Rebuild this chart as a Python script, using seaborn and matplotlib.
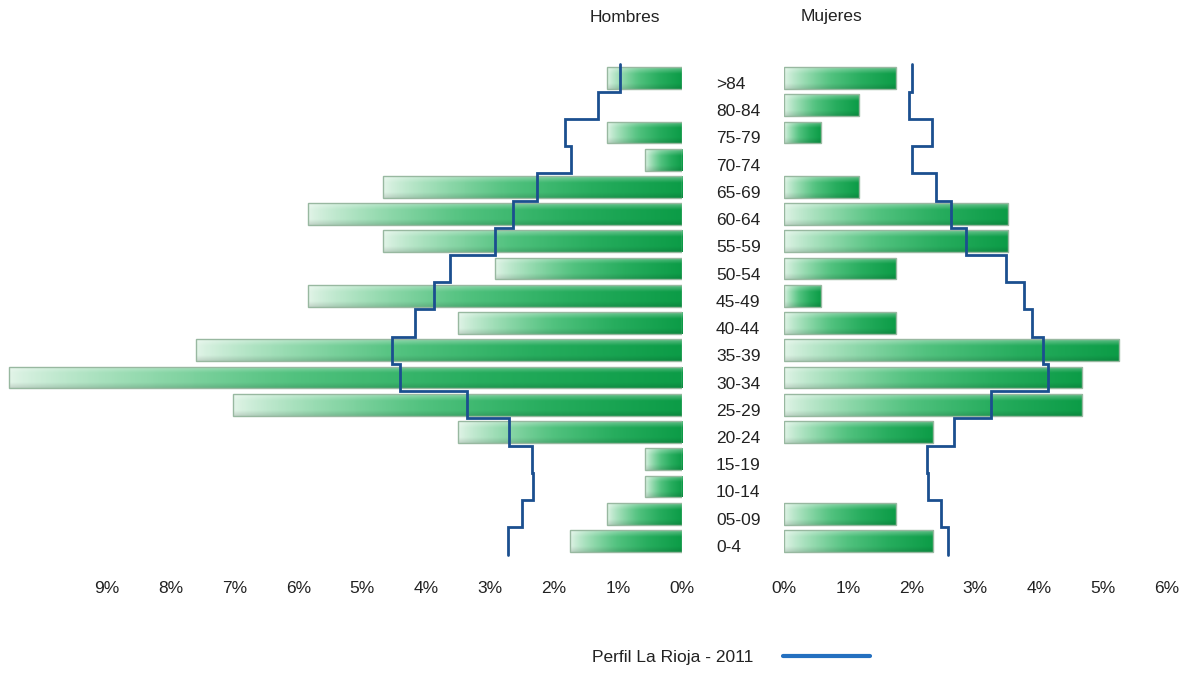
import numpy as np
import seaborn as sns
import matplotlib.pyplot as plt
from matplotlib.colors import LinearSegmentedColormap
from matplotlib.lines import Line2D
from matplotlib.transforms import ScaledTranslation

# age groups, top row first
grupos = ['>84', '80-84', '75-79', '70-74', '65-69', '60-64', '55-59', '50-54',
          '45-49', '40-44', '35-39', '30-34', '25-29', '20-24', '15-19', '10-14',
          '05-09', '0-4']

# % of population (bars)
hombres = [1.17, 0.00, 1.17, 0.58, 4.68, 5.85, 4.68, 2.92, 5.85, 3.51,
           7.60, 10.53, 7.02, 3.51, 0.58, 0.58, 1.17, 1.75]
mujeres = [1.75, 1.17, 0.58, 0.00, 1.17, 3.51, 3.51, 1.75, 0.58, 1.75,
           5.26, 4.68, 4.68, 2.34, 0.00, 0.00, 1.75, 2.34]

# La Rioja 2011 profile (step line)
perfil_h = [0.97, 1.31, 1.83, 1.74, 2.27, 2.64, 2.93, 3.63, 3.88, 4.18,
            4.54, 4.41, 3.37, 2.71, 2.35, 2.33, 2.50, 2.73]
perfil_m = [2.00, 1.96, 2.32, 2.00, 2.38, 2.62, 2.86, 3.48, 3.76, 3.89,
            4.06, 4.14, 3.24, 2.67, 2.24, 2.26, 2.46, 2.57]

ticks_h = list(range(0, 10))
ticks_m = list(range(0, 7))
leyenda = 'Perfil La Rioja - 2011'

sns.set_style('white')
plt.rcParams['font.family'] = ['Liberation Sans', 'DejaVu Sans']

fig = plt.figure(figsize=(11.89, 6.73), dpi=100)
ax_h = fig.add_axes([0.0, 0.1679, 0.5736, 0.7504])
ax_m = fig.add_axes([0.6594, 0.1679, 0.3406, 0.7504])

# green gradient used to fill each bar (light on the left, dark on the right)
cmap = LinearSegmentedColormap.from_list(
    'verde', ['#e2f4e8', '#9adcb3', '#52c27f', '#27ad5e', '#0c9c47'])
tx = np.linspace(0, 1, 256) ** 0.8
ty = np.linspace(0, 1, 24)
grad = cmap(tx)[None, :, :3].repeat(len(ty), axis=0)
light = np.clip(0.35 - ty * 1.2, 0, None)[:, None, None]
dark = np.clip((ty - 0.75) * 0.5, 0, None)[:, None, None]
grad = grad * (1 - light) + light
grad = grad * (1 - dark)

linea = '#1b4f8f'


def draw_side(ax, values, perfil, inverted):
    sns.barplot(x=values, y=grupos, orient='h', order=grupos, ax=ax,
                width=0.8, color='#3fb874', edgecolor='#98b8a0', linewidth=1)
    for p in ax.patches:
        w = p.get_width()
        if w <= 0:
            p.set_linewidth(0)
            continue
        x0, y0, h = p.get_x(), p.get_y(), p.get_height()
        lo, hi = min(x0, x0 + w), max(x0, x0 + w)
        ext = (hi, lo, y0 + h, y0) if inverted else (lo, hi, y0 + h, y0)
        im = ax.imshow(grad, extent=ext, aspect='auto', origin='upper',
                       interpolation='bilinear', zorder=1.5)
        im.set_clip_path(p)
        p.set_facecolor('none')
        p.set_zorder(2)

    pos = np.arange(len(grupos))
    ys = np.column_stack([pos - 0.5, pos + 0.5]).ravel()
    xs = np.repeat(perfil, 2)
    ax.plot(xs, ys, color=linea, lw=2.0, zorder=3, solid_joinstyle='miter')

    ax.set_ylim(17.70, -0.844)
    for s in ax.spines.values():
        s.set_visible(False)
    ax.set_xlabel('')
    ax.set_ylabel('')


draw_side(ax_h, hombres, perfil_h, True)
draw_side(ax_m, mujeres, perfil_m, False)

ax_h.set_xlim(10.67, 0)
ax_h.set_xticks(ticks_h)
ax_h.set_xticklabels([f'{t}%' for t in ticks_h])
ax_h.yaxis.tick_right()
ax_h.tick_params(axis='y', length=0, pad=24.5, labelsize=12.5, labelcolor='#222222')
ax_h.tick_params(axis='x', length=0, pad=15, labelsize=12.5, labelcolor='#222222')
# age labels sit a little below the bar centres
shift = ScaledTranslation(0, -0.05, fig.dpi_scale_trans)
for lab in ax_h.get_yticklabels():
    lab.set_transform(lab.get_transform() + shift)

ax_m.set_xlim(0, 6.35)
ax_m.set_xticks(ticks_m)
ax_m.set_xticklabels([f'{t}%' for t in ticks_m])
ax_m.set_yticks([])
ax_m.tick_params(axis='x', length=0, pad=15, labelsize=12.5, labelcolor='#222222')

fig.text(625 / 1189, 1 - 18 / 673, 'Hombres', ha='center', va='center',
         fontsize=12.5, color='#222222')
fig.text(831 / 1189, 1 - 17 / 673, 'Mujeres', ha='center', va='center',
         fontsize=12.5, color='#222222')

proxy = Line2D([], [], color='#2470c0', lw=3)
fig.legend(handles=[proxy], labels=[leyenda], loc='center',
           bbox_to_anchor=(731 / 1189, 1 - 657 / 673), frameon=False,
           markerfirst=False, handlelength=5.0, handletextpad=1.7,
           fontsize=12.5, labelcolor='#222222')

fig.savefig('out.png', dpi=100)
